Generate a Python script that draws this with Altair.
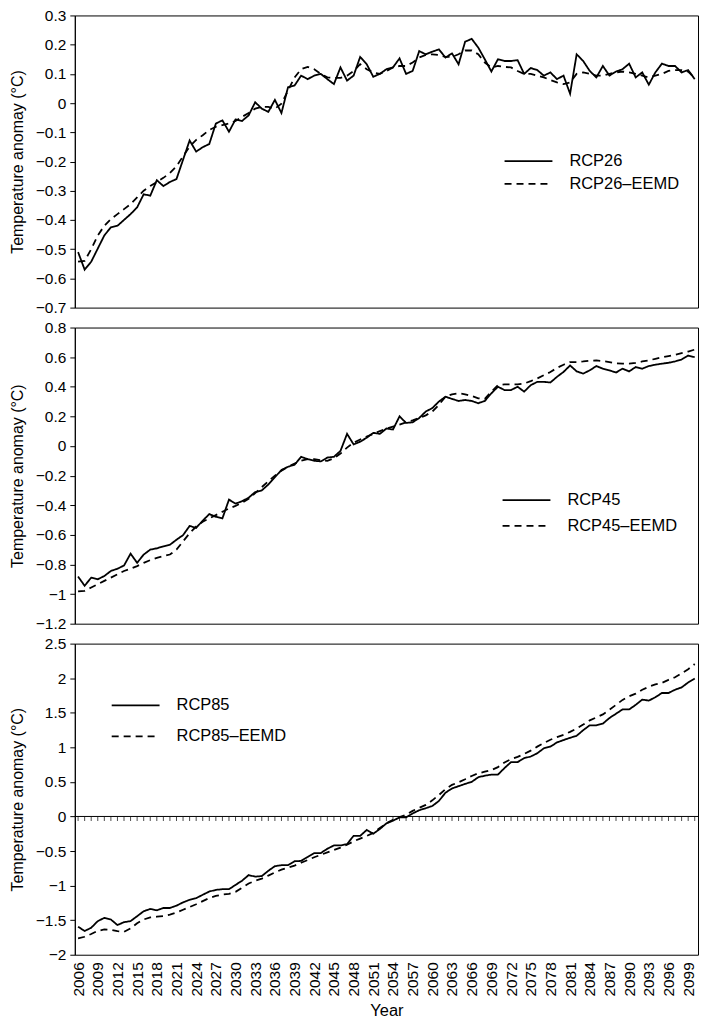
import altair as alt
import pandas as pd

years = list(range(2006, 2101))
label_years = list(range(2006, 2100, 3))

rcp26 = [
    -0.51, -0.57, -0.543, -0.498, -0.453, -0.425, -0.42, -0.40, -0.38, -0.357,
    -0.312, -0.317, -0.264, -0.284, -0.27, -0.26, -0.194, -0.128, -0.166, -0.151,
    -0.14, -0.07, -0.059, -0.098, -0.056, -0.061, -0.042, 0.003, -0.019, -0.03,
    0.011, -0.034, 0.054, 0.06, 0.094, 0.082, 0.094, 0.10, 0.082, 0.065,
    0.122, 0.077, 0.094, 0.158, 0.133, 0.09, 0.10, 0.116, 0.122, 0.153,
    0.10, 0.11, 0.178, 0.167, 0.176, 0.184, 0.156, 0.17, 0.133, 0.21,
    0.22, 0.19, 0.15, 0.108, 0.15, 0.144, 0.144, 0.147, 0.10, 0.12,
    0.113, 0.094, 0.105, 0.082, 0.094, 0.032, 0.167, 0.144, 0.11, 0.088,
    0.127, 0.094, 0.108, 0.116, 0.135, 0.088, 0.105, 0.063, 0.105, 0.135,
    0.127, 0.127, 0.105, 0.113, 0.082,
]
rcp26_eemd = [
    -0.543, -0.54, -0.50, -0.453, -0.42, -0.397, -0.38, -0.363, -0.346, -0.323,
    -0.30, -0.284, -0.27, -0.256, -0.239, -0.216, -0.182, -0.149, -0.126, -0.11,
    -0.092, -0.081, -0.075, -0.07, -0.061, -0.047, -0.034, -0.019, -0.013, -0.013,
    -0.019, -0.002, 0.043, 0.088, 0.116, 0.124, 0.116, 0.10, 0.088, 0.086,
    0.086, 0.094, 0.11, 0.133, 0.116, 0.105, 0.10, 0.11, 0.122, 0.127,
    0.127, 0.139, 0.156, 0.165, 0.167, 0.165, 0.158, 0.158, 0.167, 0.18,
    0.18, 0.167, 0.139, 0.122, 0.127, 0.124, 0.122, 0.11, 0.10, 0.10,
    0.094, 0.088, 0.079, 0.071, 0.065, 0.071, 0.10, 0.105, 0.10, 0.094,
    0.094, 0.10, 0.105, 0.108, 0.105, 0.10, 0.094, 0.088, 0.094, 0.10,
    0.11, 0.113, 0.113, 0.108, 0.086,
]
rcp45 = [
    -0.882, -0.944, -0.889, -0.90, -0.878, -0.844, -0.829, -0.807, -0.727, -0.789,
    -0.733, -0.70, -0.691, -0.678, -0.667, -0.633, -0.602, -0.54, -0.553, -0.504,
    -0.46, -0.478, -0.489, -0.362, -0.389, -0.373, -0.349, -0.311, -0.30, -0.26,
    -0.211, -0.162, -0.14, -0.127, -0.073, -0.089, -0.10, -0.104, -0.078, -0.073,
    -0.033, 0.082, 0.011, 0.029, 0.056, 0.089, 0.082, 0.118, 0.111, 0.20,
    0.156, 0.16, 0.189, 0.233, 0.256, 0.30, 0.333, 0.318, 0.304, 0.311,
    0.304, 0.289, 0.304, 0.356, 0.40, 0.378, 0.378, 0.40, 0.367, 0.411,
    0.433, 0.433, 0.429, 0.467, 0.50, 0.544, 0.504, 0.489, 0.511, 0.54,
    0.522, 0.511, 0.496, 0.522, 0.504, 0.533, 0.522, 0.54, 0.549, 0.556,
    0.562, 0.571, 0.584, 0.611, 0.60,
]
rcp45_eemd = [
    -0.982, -0.978, -0.956, -0.933, -0.911, -0.889, -0.867, -0.844, -0.829, -0.811,
    -0.789, -0.771, -0.756, -0.744, -0.733, -0.70, -0.644, -0.589, -0.544, -0.511,
    -0.489, -0.467, -0.444, -0.422, -0.404, -0.384, -0.356, -0.318, -0.278, -0.238,
    -0.20, -0.167, -0.14, -0.118, -0.10, -0.089, -0.089, -0.096, -0.10, -0.082,
    -0.051, -0.011, 0.022, 0.044, 0.064, 0.082, 0.10, 0.118, 0.131, 0.144,
    0.16, 0.173, 0.189, 0.207, 0.233, 0.278, 0.333, 0.349, 0.356, 0.349,
    0.338, 0.322, 0.318, 0.367, 0.411, 0.416, 0.416, 0.416, 0.422, 0.438,
    0.456, 0.478, 0.50, 0.527, 0.549, 0.567, 0.567, 0.571, 0.576, 0.578,
    0.573, 0.567, 0.558, 0.556, 0.556, 0.562, 0.571, 0.578, 0.589, 0.598,
    0.607, 0.616, 0.627, 0.638, 0.651,
]
rcp85 = [
    -1.595, -1.657, -1.61, -1.514, -1.467, -1.49, -1.571, -1.529, -1.514, -1.443,
    -1.371, -1.338, -1.357, -1.324, -1.324, -1.29, -1.243, -1.205, -1.181, -1.133,
    -1.086, -1.062, -1.052, -1.052, -0.99, -0.929, -0.848, -0.871, -0.862, -0.786,
    -0.719, -0.705, -0.705, -0.648, -0.643, -0.586, -0.529, -0.529, -0.467, -0.419,
    -0.419, -0.40, -0.28, -0.28, -0.195, -0.25, -0.181, -0.10, -0.062, -0.014,
    -0.014, 0.043, 0.09, 0.119, 0.152, 0.224, 0.343, 0.405, 0.438, 0.471,
    0.50, 0.567, 0.59, 0.605, 0.605, 0.70, 0.786, 0.786, 0.843, 0.867,
    0.914, 0.986, 1.01, 1.071, 1.105, 1.138, 1.167, 1.248, 1.319, 1.319,
    1.343, 1.424, 1.486, 1.548, 1.548, 1.614, 1.69, 1.676, 1.724, 1.786,
    1.786, 1.833, 1.867, 1.938, 1.995,
]
rcp85_eemd = [
    -1.762, -1.74, -1.70, -1.655, -1.635, -1.64, -1.66, -1.67, -1.62, -1.545,
    -1.49, -1.46, -1.45, -1.44, -1.42, -1.39, -1.35, -1.31, -1.27, -1.225,
    -1.18, -1.15, -1.13, -1.12, -1.09, -1.03, -0.97, -0.93, -0.90, -0.855,
    -0.81, -0.77, -0.74, -0.71, -0.67, -0.63, -0.59, -0.555, -0.52, -0.485,
    -0.45, -0.41, -0.36, -0.32, -0.281, -0.238, -0.167, -0.10, -0.048, -0.01,
    0.024, 0.081, 0.124, 0.167, 0.233, 0.31, 0.395, 0.457, 0.495, 0.538,
    0.586, 0.624, 0.648, 0.671, 0.714, 0.781, 0.829, 0.862, 0.905, 0.952,
    1.01, 1.062, 1.11, 1.148, 1.181, 1.224, 1.271, 1.329, 1.39, 1.433,
    1.476, 1.543, 1.614, 1.686, 1.738, 1.776, 1.833, 1.876, 1.91, 1.933,
    1.976, 2.014, 2.071, 2.129, 2.205,
]

ticks26 = [-0.7, -0.6, -0.5, -0.4, -0.3, -0.2, -0.1, 0, 0.1, 0.2, 0.3]
ticks45 = [-1.2, -1.0, -0.8, -0.6, -0.4, -0.2, 0, 0.2, 0.4, 0.6, 0.8]
ticks85 = [-2, -1.5, -1, -0.5, 0, 0.5, 1, 1.5, 2, 2.5]

FONT = "Liberation Sans"
W = 625
YTITLE = "Temperature anomay (\u00b0C)"


def make_panel(solid, dashed, name, yticks, height, lx, ly, rowpad, bottom=False):
    ename = name + "\u2013EEMD"
    n = len(years)
    df = pd.DataFrame({
        "Year": years + years,
        "value": solid + dashed,
        "series": [name] * n + [ename] * n,
    })
    if bottom:
        xaxis = alt.Axis(values=label_years, labelAngle=-90, ticks=False, domain=False,
                         labelPadding=7, format="d", labelFontSize=15.5, labelColor="black",
                         title="Year", titleFontSize=16.5, titleFontWeight="normal",
                         titleColor="black", titlePadding=6, grid=False, labelFont=FONT,
                         titleFont=FONT)
    else:
        xaxis = None
    x = alt.X("Year:Q", scale=alt.Scale(domain=[2005.5, 2100.5], nice=False, zero=False),
              axis=xaxis)
    y = alt.Y("value:Q",
              scale=alt.Scale(domain=[yticks[0], yticks[-1]], nice=False, zero=False),
              axis=alt.Axis(values=yticks, format="~f", title=YTITLE, grid=False,
                            tickSize=5, tickColor="black", domainColor="black",
                            labelColor="black", labelFontSize=15.5, labelPadding=4,
                            titleFontSize=16, titleFontWeight="normal", titleColor="black",
                            titlePadding=10, labelFont=FONT, titleFont=FONT))
    lines = alt.Chart(df).mark_line(color="black", strokeWidth=1.8).encode(
        x=x,
        y=y,
        strokeDash=alt.StrokeDash(
            "series:N",
            scale=alt.Scale(domain=[name, ename], range=[[1, 0], [7, 5]]),
            legend=alt.Legend(orient="none", legendX=lx, legendY=ly, title=None,
                              symbolType="M-3,0H3", symbolSize=256,
                              symbolStrokeColor="black", symbolStrokeWidth=1.8,
                              labelOffset=32, labelFontSize=16.5, labelFont=FONT,
                              labelColor="black", rowPadding=rowpad, padding=0),
        ),
    )
    chart = lines
    if bottom:
        zdf = pd.DataFrame({"Year": years, "value": [0] * n})
        zero_line = alt.Chart(zdf.head(1)).mark_rule(color="black", strokeWidth=1).encode(y=y)
        zero_ticks = alt.Chart(zdf).mark_tick(orient="vertical", size=4, thickness=1,
                                              color="black", yOffset=2.5).encode(x=x, y=y)
        chart = alt.layer(zero_line, zero_ticks, lines)
    return chart.properties(width=W, height=height)


p1 = make_panel(rcp26, rcp26_eemd, "RCP26", ticks26, 293, 446, 137, 5)
p2 = make_panel(rcp45, rcp45_eemd, "RCP45", ticks45, 297, 444, 164, 8)
p3 = make_panel(rcp85, rcp85_eemd, "RCP85", ticks85, 312, 52, 53, 13, bottom=True)

chart = (
    alt.vconcat(p1, p2, p3, spacing=20, bounds="flush")
    .resolve_scale(strokeDash="independent")
    .properties(padding={"left": 0, "top": -2, "right": 0, "bottom": 0})
    .configure(font=FONT)
    .configure_view(stroke="black", strokeWidth=1)
)

chart.save("out.html", embed_options={"renderer": "svg", "actions": False})
